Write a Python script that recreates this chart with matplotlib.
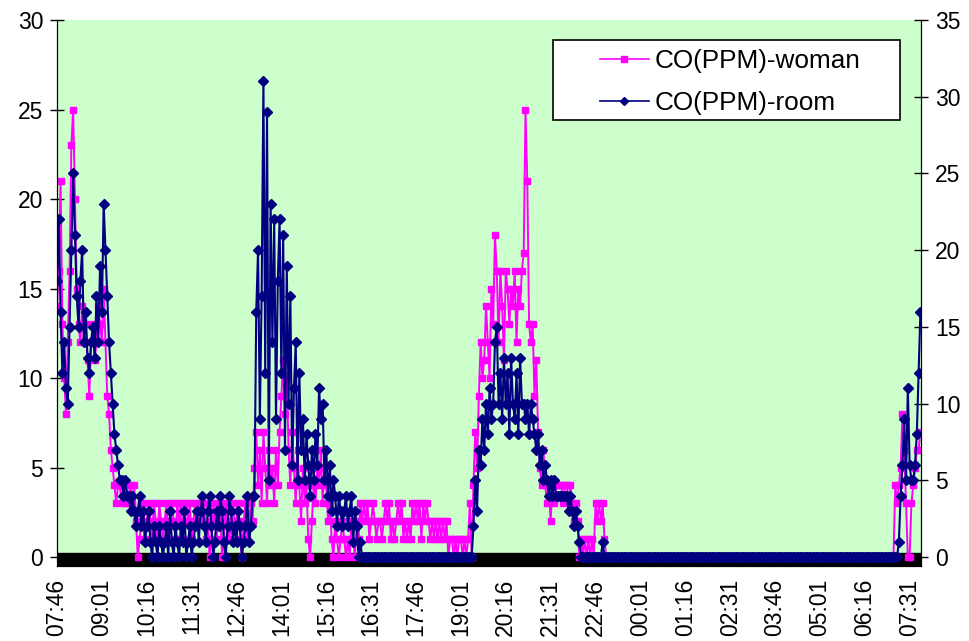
import matplotlib
matplotlib.use('Agg')
import matplotlib.pyplot as plt
import numpy as np
from matplotlib.patches import Rectangle

plt.rcParams['font.family'] = ['Liberation Sans', 'DejaVu Sans']

# one reading every 3 minutes, starting 07:46
STEP = 3

# CO (ppm) worn by the woman, 07:46 -> 23:43 (one row per hour)
woman_day = [
    14, 16, 21, 13, 10, 8, 12, 16, 23, 25, 20, 15, 13, 12, 14, 12, 13, 11, 9, 12,
    13, 11, 12, 14, 13, 12, 15, 12, 9, 8, 6, 5, 4, 3, 4, 4, 3, 4, 3, 4,
    3, 4, 3, 4, 2, 0, 1, 2, 3, 1, 2, 3, 2, 1, 3, 2, 1, 3, 2, 1,
    2, 3, 1, 2, 3, 2, 1, 3, 2, 3, 1, 2, 3, 2, 3, 1, 2, 3, 2, 3,
    3, 2, 3, 1, 2, 0, 1, 3, 2, 1, 3, 2, 0, 1, 3, 2, 1, 2, 3, 2,
    2, 3, 1, 0, 2, 3, 1, 2, 3, 2, 5, 7, 4, 6, 3, 7, 5, 3, 6, 4,
    5, 3, 6, 4, 7, 9, 11, 8, 10, 6, 4, 7, 5, 3, 6, 4, 2, 5, 3, 4,
    1, 0, 2, 4, 3, 5, 4, 6, 3, 5, 4, 2, 3, 1, 0, 2, 1, 0, 1, 2,
    1, 0, 1, 0, 2, 1, 0, 2, 1, 3, 2, 3, 2, 3, 1, 2, 3, 2, 1, 2,
    2, 1, 2, 3, 2, 3, 1, 2, 1, 2, 3, 2, 3, 1, 2, 1, 2, 1, 3, 2,
    3, 2, 3, 1, 3, 2, 3, 2, 1, 2, 1, 2, 1, 2, 1, 2, 1, 2, 0, 1,
    1, 0, 1, 0, 1, 1, 0, 1, 0, 1, 3, 0, 4, 7, 5, 9, 12, 10, 11, 14,
    12, 10, 15, 13, 18, 16, 12, 16, 14, 11, 16, 15, 13, 15, 14, 16, 12, 15, 14, 16,
    17, 25, 21, 13, 12, 13, 9, 11, 7, 5, 4, 6, 4, 3, 4, 2, 4, 3, 4, 4,
    4, 4, 3, 4, 4, 3, 4, 3, 2, 3, 2, 0, 1, 0, 1, 0, 1, 0, 1, 0,
    3, 2, 3, 2, 3, 1, 0, 0, 0, 0, 0, 0, 0, 0, 0, 0, 0, 0, 0, 0,
]

# CO (ppm) in the room, same times
room_day = [
    18, 22, 16, 12, 14, 11, 10, 15, 20, 25, 21, 17, 15, 18, 20, 14, 16, 13, 12, 14,
    15, 13, 17, 14, 19, 16, 23, 20, 17, 14, 12, 10, 8, 7, 6, 5, 5, 4, 5, 4,
    4, 3, 4, 3, 2, 3, 4, 2, 3, 1, 2, 3, 1, 0, 2, 1, 0, 2, 1, 0,
    1, 2, 0, 3, 1, 0, 2, 1, 0, 2, 1, 3, 0, 1, 2, 0, 1, 2, 3, 1,
    3, 4, 2, 1, 3, 4, 2, 0, 1, 3, 2, 4, 3, 1, 0, 2, 4, 3, 1, 2,
    1, 3, 2, 0, 1, 2, 4, 1, 2, 4, 4, 16, 20, 9, 17, 31, 12, 29, 5, 23,
    14, 22, 9, 18, 22, 12, 21, 7, 19, 10, 17, 6, 11, 14, 5, 12, 7, 9, 5, 8,
    6, 4, 7, 5, 8, 6, 11, 9, 10, 5, 7, 4, 6, 3, 5, 4, 2, 4, 3, 2,
    3, 4, 2, 3, 4, 1, 3, 2, 0, 1, 0, 0, 0, 0, 0, 0, 0, 0, 0, 0,
    0, 0, 0, 0, 0, 0, 0, 0, 0, 0, 0, 0, 0, 0, 0, 0, 0, 0, 0, 0,
    0, 0, 0, 0, 0, 0, 0, 0, 0, 0, 0, 0, 0, 0, 0, 0, 0, 0, 0, 0,
    0, 0, 0, 0, 0, 0, 0, 0, 0, 0, 0, 0, 2, 5, 3, 7, 6, 9, 7, 10,
    8, 11, 9, 10, 14, 15, 10, 12, 9, 13, 10, 12, 8, 13, 10, 9, 12, 8, 13, 10,
    10, 9, 10, 8, 10, 9, 8, 7, 8, 6, 7, 5, 6, 5, 4, 5, 4, 5, 4, 4,
    4, 4, 4, 4, 4, 3, 4, 3, 2, 3, 2, 1, 0, 0, 0, 0, 0, 0, 0, 0,
    0, 0, 0, 0, 1, 0, 0, 0, 0, 0, 0, 0, 0, 0, 0, 0, 0, 0, 0, 0,
]

# 23:46 -> 07:01 both read zero
night_len = 146

# 07:04 -> 07:49 next morning
woman_end = [0, 4, 3, 4, 5, 8, 6, 3, 0, 0, 3, 4, 5, 6, 6, 7]
room_end = [0, 0, 0, 1, 4, 6, 9, 5, 11, 6, 5, 5, 6, 8, 12, 16]

tick_labels = ['07:46', '09:01', '10:16', '11:31', '12:46', '14:01', '15:16',
               '16:31', '17:46', '19:01', '20:16', '21:31', '22:46', '00:01',
               '01:16', '02:31', '03:46', '05:01', '06:16', '07:31']

woman = np.array(woman_day + [0] * night_len + woman_end)
room = np.array(room_day + [0] * night_len + room_end)
minutes = np.arange(len(woman)) * STEP
tick_pos = np.arange(len(tick_labels)) * 75

fig = plt.figure(figsize=(9.7, 6.41), dpi=100)
ax = fig.add_axes([57 / 970, 1 - 566 / 641, 864 / 970, 546 / 641])
ax.set_facecolor('#ccffcc')
ax2 = ax.twinx()

ax.set_xlim(0, 1444)
ax.set_ylim(-0.5, 30)
ax2.set_ylim(-0.5 * 35 / 30, 35)

# thick black floor under the zero line
ax.axhspan(-0.5, 0.22, color='black', zorder=0.5)

ax.plot(minutes, woman, color='#ff00ff', marker='s', ms=5, lw=1.4, zorder=2,
        label='CO(PPM)-woman')
ax2.plot(minutes, room, color='#000080', marker='D', ms=5, lw=1.5,
         label='CO(PPM)-room')

ax.set_yticks(range(0, 31, 5))
ax2.set_yticks(range(0, 36, 5))
for a in (ax, ax2):
    a.tick_params(axis='y', direction='inout', length=10, width=1,
                  labelsize=16.5, pad=5, colors='black')
    a.spines['top'].set_visible(False)
ax.set_xticks(tick_pos)
ax.set_xticklabels(tick_labels, rotation=90, fontsize=16.5)
ax.tick_params(axis='x', length=0, pad=9)

# legend: white box plus frameless legend inside it
ax2.add_patch(Rectangle((0.574, 0.817), 0.402, 0.146, transform=ax2.transAxes,
                        facecolor='white', edgecolor='black', lw=1.2,
                        zorder=5, clip_on=False))
h1, l1 = ax.get_legend_handles_labels()
h2, l2 = ax2.get_legend_handles_labels()
leg = ax2.legend(h1 + h2, l1 + l2, loc='upper left',
                 bbox_to_anchor=(0.628, 0.946), frameon=False, fontsize=18.8,
                 handlelength=1.9, handletextpad=0.2, labelspacing=0.68,
                 borderpad=0, borderaxespad=0, numpoints=1, markerscale=0.9)
for line in leg.get_lines():
    line.set_linewidth(1.2)
leg.set_zorder(6)

fig.savefig('out.png', dpi=100)
